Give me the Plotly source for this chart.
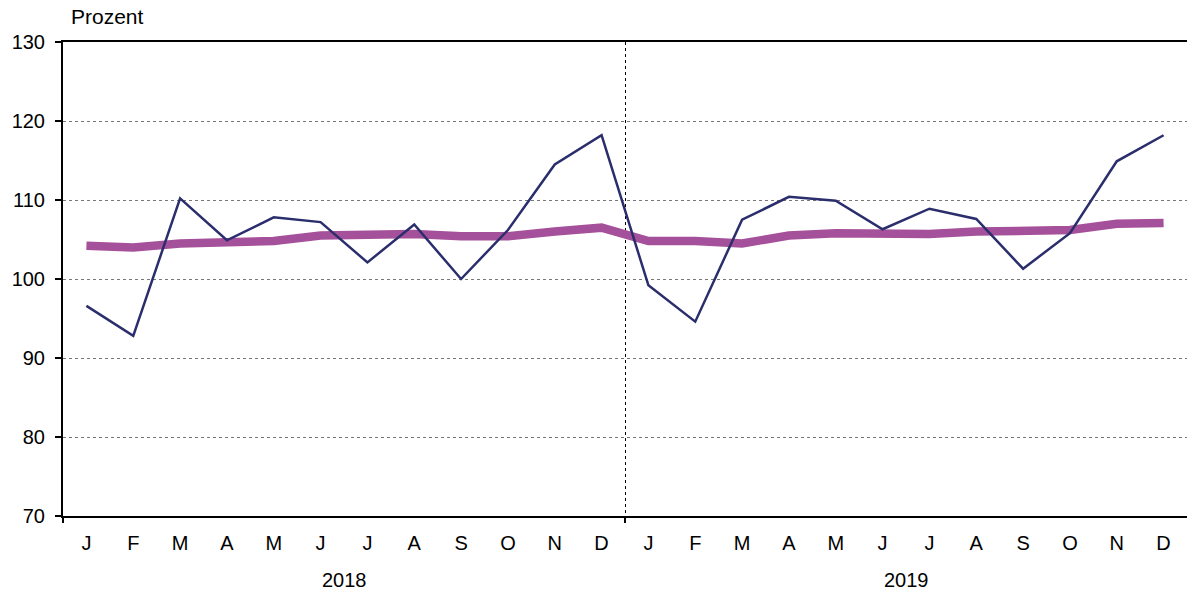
import plotly.graph_objects as go

months = ["J", "F", "M", "A", "M", "J", "J", "A", "S", "O", "N", "D"] * 2
years = ["2018", "2019"]
monthly = [96.6, 92.8, 110.2, 104.9, 107.8, 107.2, 102.1, 106.9, 100.0, 106.2, 114.5, 118.2,
           99.2, 94.6, 107.5, 110.4, 109.9, 106.3, 108.9, 107.6, 101.3, 105.8, 114.9, 118.2]
trend = [104.2, 104.0, 104.5, 104.6, 104.8, 105.5, 105.6, 105.7, 105.4, 105.4, 106.0, 106.5,
         104.8, 104.8, 104.5, 105.5, 105.8, 105.8, 105.7, 106.0, 106.2, 106.2, 107.0, 107.1]

x = list(range(len(months)))
FONT = "Liberation Sans, Arial, sans-serif"

fig = go.Figure()
fig.add_trace(go.Scatter(x=x, y=trend, mode="lines",
                         line=dict(color="#a5509a", width=8.5, shape="linear"),
                         showlegend=False, hoverinfo="skip"))
fig.add_trace(go.Scatter(x=x, y=monthly, mode="lines",
                         line=dict(color="#2b2e6c", width=2.5),
                         showlegend=False))
# invisible trace on xaxis2 for separator tick/grid
fig.add_trace(go.Scatter(x=[x[0]], y=[monthly[0]], xaxis="x2", mode="none",
                         showlegend=False, hoverinfo="skip"))

xr = [-0.5, len(months) - 0.5]
fig.update_layout(
    width=1187, height=594,
    margin=dict(l=63, r=0, t=42, b=78),
    paper_bgcolor="white", plot_bgcolor="white",
    font=dict(family=FONT, size=20, color="black"),
    xaxis=dict(range=xr, tickmode="array", tickvals=x, ticktext=months,
               ticks="", showgrid=False, zeroline=False,
               showline=True, linecolor="black", linewidth=2, mirror=True,
               tickfont=dict(size=20), ticklabelstandoff=8),
    xaxis2=dict(range=xr, overlaying="x", anchor="y", side="bottom",
                tickmode="array", tickvals=[-0.5, 11.5], showticklabels=False,
                ticks="outside", ticklen=6, tickwidth=2, tickcolor="black",
                showgrid=True, gridcolor="black", griddash="dot", gridwidth=1,
                zeroline=False, showline=False),
    yaxis=dict(range=[70, 130], dtick=10, ticks="outside", ticklen=6, tickwidth=2,
               tickcolor="black", showline=True, linecolor="black", linewidth=2,
               showgrid=True, gridcolor="#777777", griddash="dot", gridwidth=1,
               zeroline=False, tickfont=dict(size=20), ticklabelstandoff=6),
)

annotations = [dict(text="Prozent", xref="paper", yref="paper", x=0, y=1,
                    xanchor="left", yanchor="bottom", xshift=6, yshift=12,
                    showarrow=False, font=dict(size=21))]
for i, yr in enumerate(years):
    annotations.append(dict(text=yr, xref="x", yref="paper", x=i * 12 + 5.5, y=0,
                            xanchor="center", yanchor="middle", yshift=-64,
                            showarrow=False, font=dict(size=20)))
fig.update_layout(annotations=annotations)

fig.write_html("out.html", config={"displayModeBar": False},
               post_script="document.body.style.margin='0';document.body.style.overflow='hidden';")
